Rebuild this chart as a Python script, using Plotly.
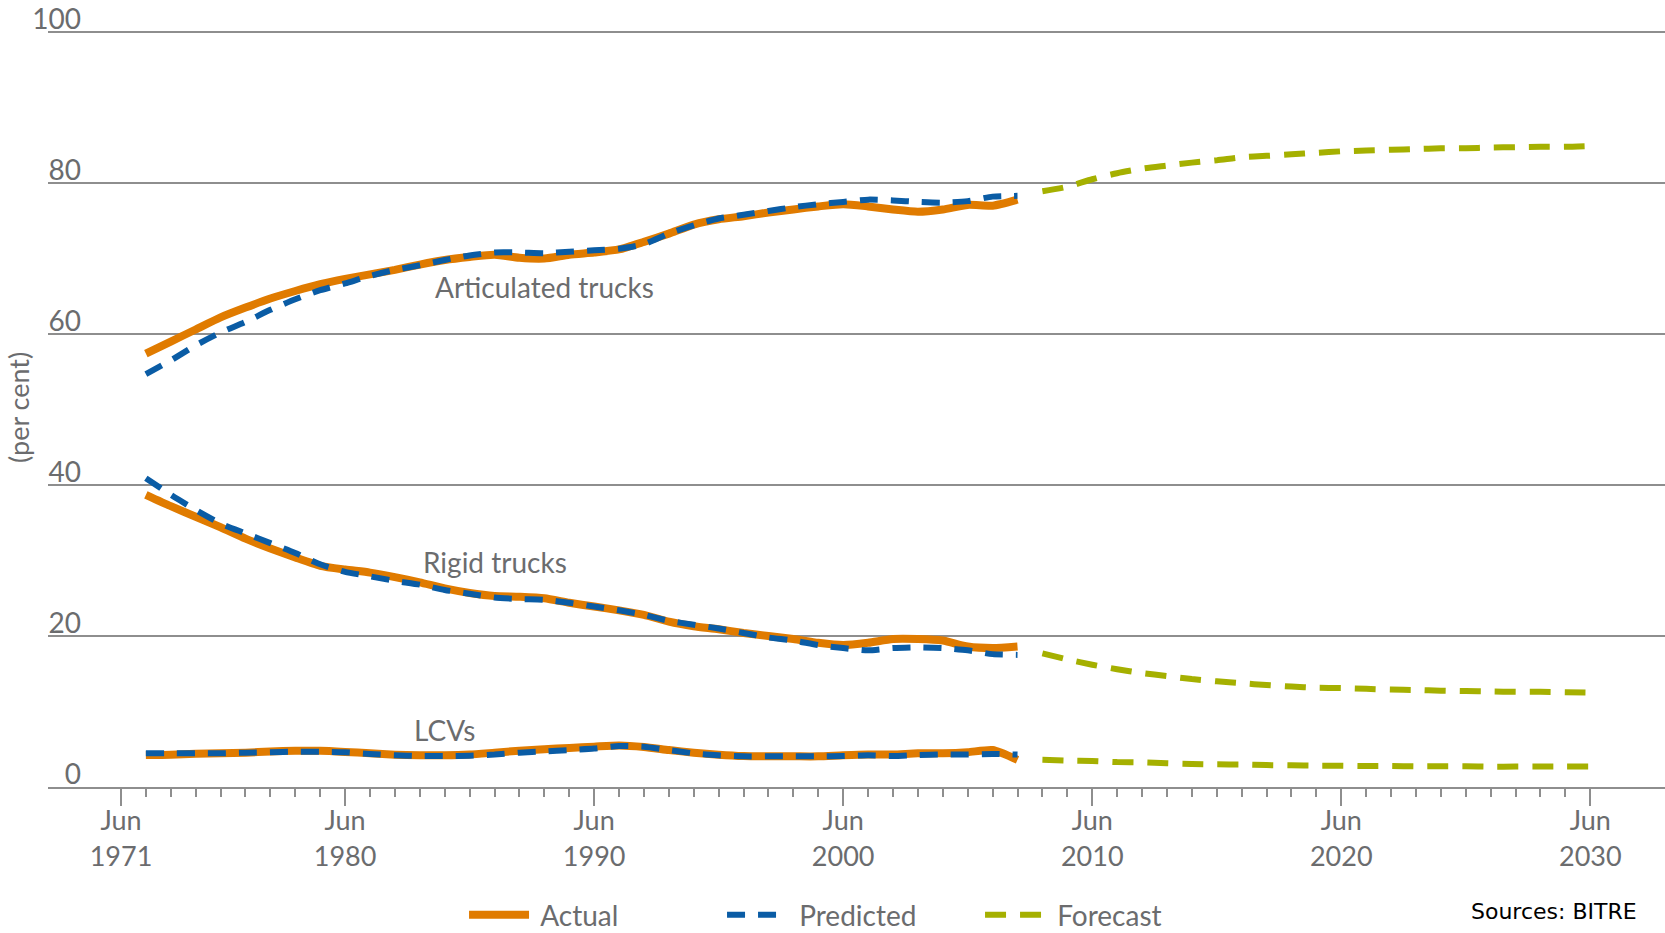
import plotly.graph_objects as go

# ---------------- data ----------------
hist_years = [y + 0.5 for y in range(1972, 2008)]      # Jun 1972 .. Jun 2007
fcst_years = [y + 0.5 for y in range(2008, 2031)]      # Jun 2008 .. Jun 2030

artic_actual = [57.4, 59.0, 60.6, 62.2, 63.5, 64.7, 65.7, 66.6, 67.3, 67.9,
                68.5, 69.2, 69.8, 70.2, 70.5, 70.1, 70.0, 70.5, 70.8, 71.2,
                72.2, 73.3, 74.5, 75.2, 75.6, 76.1, 76.5, 76.9, 77.2, 76.9,
                76.5, 76.2, 76.5, 77.1, 77.0, 77.8]
artic_pred = [54.7, 56.5, 58.5, 60.2, 61.6, 63.2, 64.6, 65.8, 66.7, 67.7,
              68.5, 69.1, 69.8, 70.4, 70.8, 70.8, 70.7, 70.9, 71.1, 71.3,
              71.9, 73.3, 74.4, 75.3, 75.8, 76.3, 76.8, 77.2, 77.5, 77.8,
              77.7, 77.5, 77.4, 77.6, 78.2, 78.3]
artic_fcst = [78.9, 79.5, 80.5, 81.3, 81.9, 82.3, 82.7, 83.0, 83.4, 83.6,
              83.8, 84.0, 84.2, 84.3, 84.4, 84.5, 84.6, 84.6, 84.7, 84.75,
              84.8, 84.8, 84.9]

rigid_actual = [38.7, 37.2, 35.8, 34.4, 32.9, 31.6, 30.4, 29.3, 28.8, 28.4,
                27.8, 27.1, 26.3, 25.7, 25.3, 25.2, 25.0, 24.4, 23.9, 23.4,
                22.8, 21.9, 21.3, 20.9, 20.4, 20.0, 19.6, 19.1, 18.8, 19.1,
                19.6, 19.6, 19.4, 18.6, 18.4, 18.6]
rigid_pred = [40.9, 38.7, 36.7, 34.9, 33.6, 32.3, 31.0, 29.5, 28.5, 27.9,
              27.3, 26.8, 26.1, 25.6, 25.1, 24.9, 24.8, 24.4, 23.9, 23.4,
              22.8, 22.0, 21.5, 21.0, 20.4, 19.8, 19.4, 18.8, 18.4, 18.1,
              18.4, 18.5, 18.4, 18.1, 17.6, 17.5]
rigid_fcst = [17.7, 16.9, 16.2, 15.6, 15.1, 14.7, 14.3, 14.0, 13.75, 13.5,
              13.3, 13.15, 13.1, 13.0, 12.9, 12.85, 12.75, 12.7, 12.65, 12.6,
              12.6, 12.55, 12.5]

lcv_actual = [4.24, 4.28, 4.4, 4.46, 4.55, 4.7, 4.8, 4.8, 4.65, 4.46,
              4.28, 4.2, 4.2, 4.3, 4.55, 4.8, 5.0, 5.17, 5.34, 5.5,
              5.3, 4.9, 4.55, 4.28, 4.1, 4.06, 4.06, 4.06, 4.2, 4.3,
              4.3, 4.46, 4.46, 4.6, 4.9, 3.6]
lcv_pred = [4.46, 4.46, 4.46, 4.46, 4.55, 4.6, 4.68, 4.65, 4.6, 4.37,
            4.2, 4.1, 4.1, 4.15, 4.3, 4.55, 4.72, 4.9, 5.1, 5.43,
            5.34, 4.9, 4.46, 4.2, 4.06, 4.06, 4.06, 4.06, 4.1, 4.2,
            4.1, 4.24, 4.3, 4.3, 4.37, 4.3]
lcv_fcst = [3.6, 3.5, 3.45, 3.3, 3.25, 3.14, 3.05, 3.0, 2.98, 2.9,
            2.87, 2.83, 2.83, 2.78, 2.78, 2.74, 2.74, 2.74, 2.7, 2.7,
            2.7, 2.7, 2.7]

major_tick_years = [1971.5, 1980.5, 1990.5, 2000.5, 2010.5, 2020.5, 2030.5]
major_tick_text = ["Jun<br>1971", "Jun<br>1980", "Jun<br>1990", "Jun<br>2000",
                   "Jun<br>2010", "Jun<br>2020", "Jun<br>2030"]
y_ticks = [0, 20, 40, 60, 80, 100]

series_labels = ["Articulated trucks", "Rigid trucks", "LCVs"]
label_x = [1988.5, 1986.5, 1984.5]
label_y = [66.2, 29.8, 7.55]

# ---------------- styles ----------------
ORANGE = "#E07B00"
BLUE = "#0A5CA5"
GREEN = "#A5B000"
TEXT = "#6B6C6E"
GRID = "#8E8E8E"
FONT = "Lato, 'Open Sans', sans-serif"

fig = go.Figure()

groups = [
    (artic_actual, artic_pred, artic_fcst),
    (rigid_actual, rigid_pred, rigid_fcst),
    (lcv_actual, lcv_pred, lcv_fcst),
]

for i, (act, pred, fc) in enumerate(groups):
    first = i == 0
    fig.add_trace(go.Scatter(
        x=hist_years, y=act, mode="lines", name="&nbsp;Actual",
        legendgroup="actual", showlegend=first,
        line=dict(color=ORANGE, width=8, shape="spline", smoothing=0.6),
    ))
    fig.add_trace(go.Scatter(
        x=hist_years, y=pred, mode="lines", name="&nbsp;Predicted",
        legendgroup="pred", showlegend=first,
        line=dict(color=BLUE, width=6, dash="18px,13px", shape="spline", smoothing=0.6),
    ))
    fig.add_trace(go.Scatter(
        x=fcst_years, y=fc, mode="lines", name="&nbsp;Forecast",
        legendgroup="fcst", showlegend=first,
        line=dict(color=GREEN, width=6, dash="21px,14px", shape="spline", smoothing=0.6),
    ))

annotations = []
for txt, lx, ly in zip(series_labels, label_x, label_y):
    annotations.append(dict(x=lx, y=ly, xref="x", yref="y", text=txt,
                            showarrow=False, font=dict(family=FONT, size=28, color=TEXT),
                            xanchor="center", yanchor="middle"))

annotations.append(dict(x=0, y=0.5, xref="paper", yref="paper", text="(per cent)",
                        textangle=-90, showarrow=False, xshift=-30,
                        font=dict(family=FONT, size=27, color=TEXT),
                        xanchor="center", yanchor="middle"))
annotations.append(dict(x=1, y=0, xref="paper", yref="paper", text="Sources: BITRE",
                        showarrow=False, xshift=-26, yshift=-124,
                        font=dict(family="DejaVu Sans, Verdana, sans-serif", size=22, color="#000000"),
                        xanchor="right", yanchor="middle"))

minor_years = [y + 0.5 for y in range(1972, 2030) if (y + 0.5) not in major_tick_years]

fig.update_layout(
    width=1665, height=933,
    margin=dict(l=48, r=0, t=29, b=146),
    paper_bgcolor="white", plot_bgcolor="white",
    font=dict(family=FONT, size=28, color=TEXT),
    showlegend=True,
    legend=dict(orientation="h", xref="container", yref="container",
                x=0.2787, y=0.0193, xanchor="left", yanchor="middle",
                font=dict(family=FONT, size=28, color=TEXT),
                entrywidth=183, entrywidthmode="pixels",
                itemwidth=60, bgcolor="rgba(0,0,0,0)"),
    annotations=annotations,
    xaxis=dict(
        range=[1968.57, 2033.5], automargin=False,
        tickmode="array", tickvals=major_tick_years, ticktext=major_tick_text,
        ticks="outside", ticklen=17, tickwidth=2, tickcolor=GRID,
        showline=True, linecolor=GRID, linewidth=2,
        showgrid=False, zeroline=False,
        ticklabelstandoff=-8,
        tickfont=dict(family=FONT, size=27, color=TEXT),
        minor=dict(tickmode="array", tickvals=minor_years, ticks="outside",
                   ticklen=8, tickwidth=1.5, tickcolor=GRID, showgrid=False),
    ),
    yaxis=dict(
        range=[0, 100.4], automargin=False,
        tickmode="array", tickvals=y_ticks,
        showgrid=True, gridcolor=GRID, gridwidth=2,
        zeroline=False, showline=False, ticks="",
        ticklabelposition="outside top", ticklabelstandoff=-34,
        ticklabelshift=7, ticklabeloverflow="allow",
        tickfont=dict(family=FONT, size=28, color=TEXT),
    ),
)

fig.write_html("out.html", config={"displayModeBar": False},
               post_script="document.body.style.margin='0px';")
